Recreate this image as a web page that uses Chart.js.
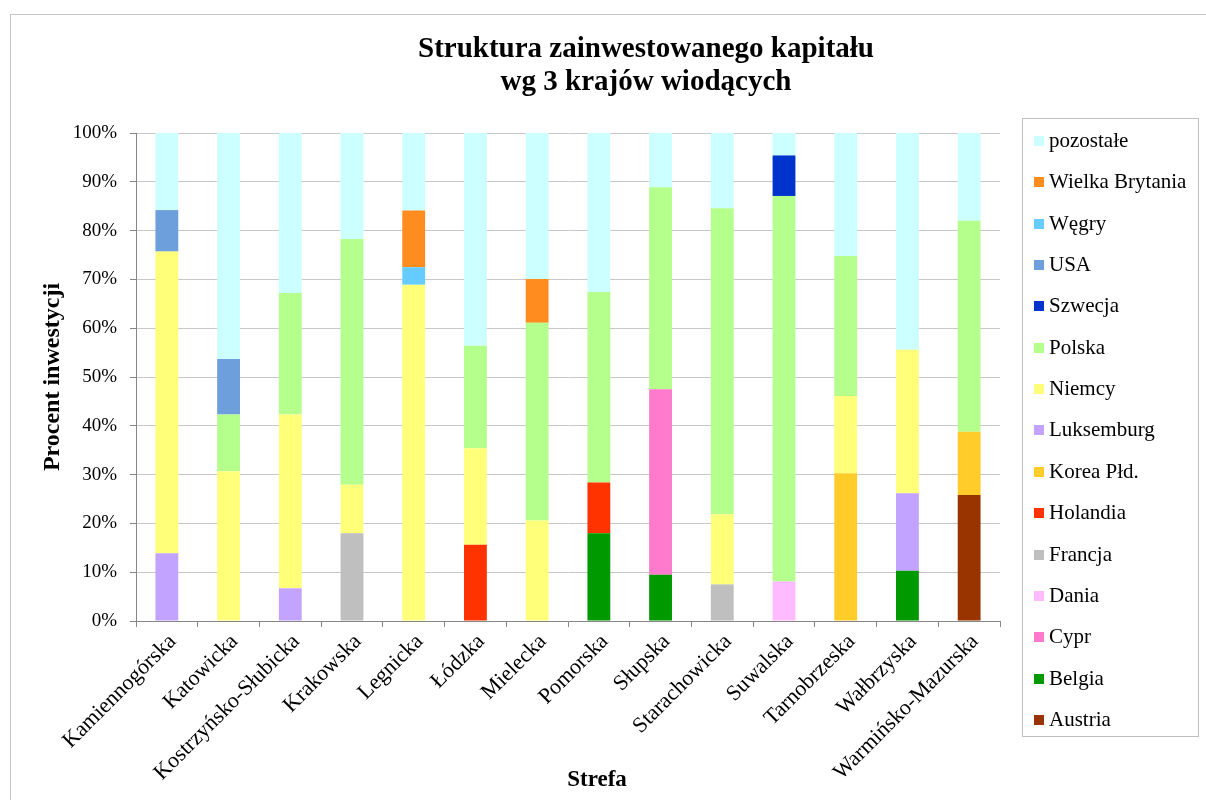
<!DOCTYPE html>
<html lang="pl">
<head>
<meta charset="utf-8">
<title>Struktura zainwestowanego kapitału</title>
<script src="https://cdn.jsdelivr.net/npm/chart.js@4.4.1/dist/chart.umd.min.js"></script>
<style>
    body { margin: 0; background: #fff; font-family: "Liberation Serif", "Times New Roman", serif; }
    #wrap { position: relative; width: 1206px; height: 800px; overflow: hidden; }
    #frame { position: absolute; left: 10px; top: 14px; width: 1300px; height: 900px; border-left: 1px solid #c8c8c8; border-top: 1px solid #c8c8c8; }
    #title { position: absolute; left: 346px; width: 600px; top: 31px; text-align: center; font-weight: bold; font-size: 29px; line-height: 33px; color: #000; }
    #xtitle { position: absolute; left: 497px; width: 200px; top: 765px; text-align: center; font-weight: bold; font-size: 23px; line-height: 28px; color: #000; }
    #legend { position: absolute; left: 1022px; top: 118px; width: 177px; height: 619px; border: 1px solid #bfbfbf; box-sizing: border-box; }
    #legend .item { position: absolute; left: 11px; font-size: 21px; line-height: 22px; color: #000; white-space: nowrap; }
    #legend .box { display: inline-block; width: 10px; height: 10px; margin-right: 5px; vertical-align: 1px; }
    canvas { position: absolute; left: 0; top: 0; }
</style>
</head>
<body>
<div id="wrap">
    <div id="frame"></div>
    <canvas id="chart" width="1206" height="800"></canvas>
    <div id="title">Struktura zainwestowanego kapitału<br>wg 3 krajów wiodących</div>
    <div id="xtitle">Strefa</div>
    <div id="legend"></div>
</div>
<script>
// Strefy (oś X)
const strefy = ["Kamiennogórska", "Katowicka", "Kostrzyńsko-Słubicka", "Krakowska", "Legnicka", "Łódzka",
    "Mielecka", "Pomorska", "Słupska", "Starachowicka", "Suwalska", "Tarnobrzeska", "Wałbrzyska", "Warmińsko-Mazurska"];

// Udział krajów w %
const austria    = [0, 0, 0, 0, 0, 0, 0, 0, 0, 0, 0, 0, 0, 25.8];
const belgia     = [0, 0, 0, 0, 0, 0, 0, 18.0, 9.5, 0, 0, 0, 10.3, 0];
const cypr       = [0, 0, 0, 0, 0, 0, 0, 0, 38.0, 0, 0, 0, 0, 0];
const dania      = [0, 0, 0, 0, 0, 0, 0, 0, 0, 0, 8.1, 0, 0, 0];
const francja    = [0, 0, 0, 18.0, 0, 0, 0, 0, 0, 7.5, 0, 0, 0, 0];
const holandia   = [0, 0, 0, 0, 0, 15.6, 0, 10.4, 0, 0, 0, 0, 0, 0];
const korea      = [0, 0, 0, 0, 0, 0, 0, 0, 0, 0, 0, 30.3, 0, 13.0];
const luksemburg = [13.9, 0, 6.7, 0, 0, 0, 0, 0, 0, 0, 0, 0, 15.9, 0];
const niemcy     = [61.8, 30.7, 35.6, 9.9, 68.9, 19.8, 20.6, 0, 0, 14.4, 0, 15.8, 29.4, 0];
const polska     = [0, 11.6, 24.9, 50.4, 0, 21.0, 40.5, 39.0, 41.4, 62.7, 79.0, 28.7, 0, 43.2];
const szwecja    = [0, 0, 0, 0, 0, 0, 0, 0, 0, 0, 8.3, 0, 0, 0];
const usa        = [8.5, 11.4, 0, 0, 0, 0, 0, 0, 0, 0, 0, 0, 0, 0];
const wegry      = [0, 0, 0, 0, 3.6, 0, 0, 0, 0, 0, 0, 0, 0, 0];
const wielkaBryt = [0, 0, 0, 0, 11.6, 0, 9.0, 0, 0, 0, 0, 0, 0, 0];
const pozostale  = [15.8, 46.3, 32.8, 21.7, 15.9, 43.6, 29.9, 32.6, 11.1, 15.4, 4.6, 25.2, 44.4, 18.0];

const kraje = ["Austria", "Belgia", "Cypr", "Dania", "Francja", "Holandia", "Korea Płd.", "Luksemburg",
    "Niemcy", "Polska", "Szwecja", "USA", "Węgry", "Wielka Brytania", "pozostałe"];
const serie = [austria, belgia, cypr, dania, francja, holandia, korea, luksemburg,
    niemcy, polska, szwecja, usa, wegry, wielkaBryt, pozostale];
const kolory = ["#993300", "#009900", "#ff7acc", "#ffbbff", "#bfbfbf", "#ff3300", "#ffcc2a", "#c2a3ff",
    "#ffff7a", "#b5ff8c", "#0033cc", "#6c9fdb", "#66ccff", "#ff8c1f", "#ccffff"];

const yTicks = [0, 10, 20, 30, 40, 50, 60, 70, 80, 90, 100];

const FONT = "'Liberation Serif', 'Times New Roman', serif";

function buildLegend() {
    const box = document.getElementById("legend");
    // kolejność odwrócona - jak w Excelu
    for (let i = kraje.length - 1, row = 0; i >= 0; i--, row++) {
        const it = document.createElement("div");
        it.className = "item";
        it.style.top = (10 + row * 41.35) + "px";
        it.innerHTML = '<span class="box" style="background:' + kolory[i] + '"></span>' + kraje[i];
        box.appendChild(it);
    }
}

function initChart() {
    const ctx = document.getElementById("chart");
    new Chart(ctx, {
        type: "bar",
        data: {
            labels: strefy,
            datasets: kraje.map((k, i) => ({
                label: k,
                data: serie[i],
                backgroundColor: kolory[i],
                borderWidth: 0,
                barPercentage: 0.37,
                categoryPercentage: 1.0
            }))
        },
        options: {
            responsive: false,
            animation: false,
            layout: { padding: { top: 133, right: 206, left: 0, bottom: 0 } },
            plugins: {
                legend: { display: false },
                title: { display: false },
                tooltip: { enabled: false }
            },
            scales: {
                x: {
                    stacked: true,
                    afterFit: s => { s.height = 179; },
                    border: { color: "#868686", width: 1 },
                    grid: { offset: true, drawOnChartArea: false, color: "#868686", tickLength: 6 },
                    ticks: {
                        color: "#000",
                        font: { family: FONT, size: 22 },
                        maxRotation: 45, minRotation: 45,
                        autoSkip: false,
                        labelOffset: 6,
                        padding: 2
                    }
                },
                y: {
                    stacked: true,
                    min: 0, max: 100,
                    afterFit: s => { s.width = 136; },
                    afterBuildTicks: s => { s.ticks = yTicks.map(v => ({ value: v })); },
                    border: { color: "#868686", width: 1 },
                    grid: { color: "#c8c8c8", tickColor: "#868686", tickLength: 6 },
                    ticks: {
                        color: "#000",
                        font: { family: FONT, size: 19 },
                        padding: 13,
                        callback: v => v + "%"
                    },
                    title: {
                        display: true, text: "Procent inwestycji", color: "#000",
                        font: { family: FONT, size: 24, weight: "bold", lineHeight: 1.2 },
                        padding: { top: 38, bottom: 0 }
                    }
                }
            }
        }
    });
}

buildLegend();
initChart();
</script>
</body>
</html>
